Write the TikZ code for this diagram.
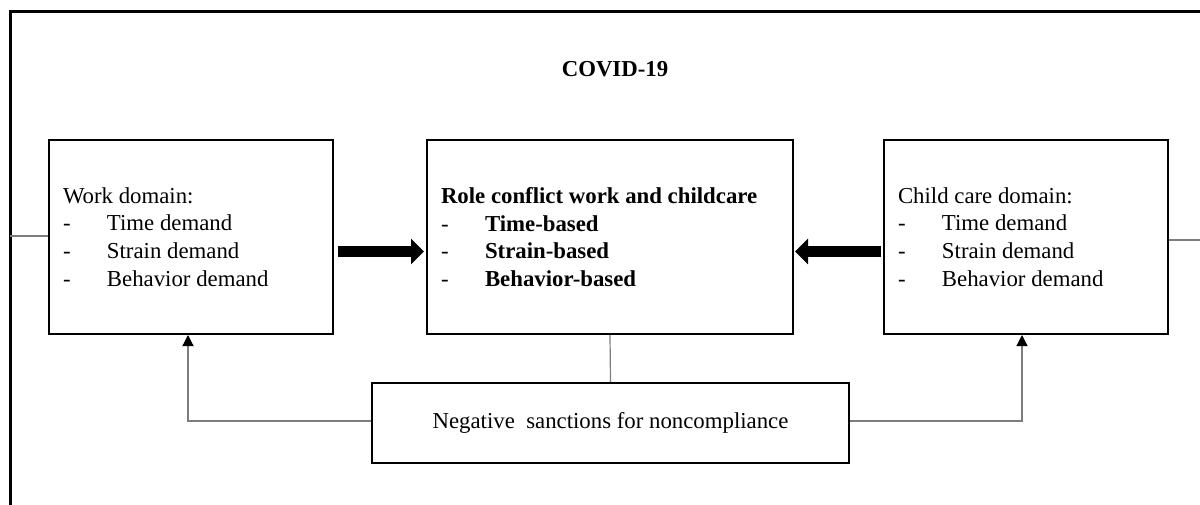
\documentclass[tikz,border=0pt]{standalone}
\usepackage{fontspec}
\setmainfont{Liberation Serif}
\usepackage{tikz}
\usetikzlibrary{arrows.meta,positioning,calc}
\definecolor{linkgray}{RGB}{125,125,125}
\newcommand{\itm}[1]{\makebox[22pt][l]{-}#1}

\begin{document}
\begin{tikzpicture}[x=0.5pt,y=-0.5pt,
    box/.style={draw,line width=1pt,minimum height=97pt,inner xsep=7pt,align=flush left,
      font=\fontsize{11.4}{13.85}\selectfont},
    link/.style={draw=linkgray,line width=0.6pt},
    smallarrow/.style={link,-{Triangle[length=5.5pt,width=5.5pt,color=black]}},
    bigarrow/.style={line width=5.5pt,-{Triangle[length=6.5pt,width=12.5pt]}}]
        \useasboundingbox (0,0) rectangle (1200,504);
        \clip (0,0) rectangle (1200,504);
        % frame
        \draw[line width=1.5pt] (10,11.5) rectangle (1220,530);
        \node[font=\fontsize{11.4}{13.85}\selectfont\bfseries,anchor=base] (covid) at (615,76) {COVID-19};
        % boxes
        \node[box,text width=128pt] (work) at (191,237)
          {Work domain:\\ \itm{Time demand}\\ \itm{Strain demand}\\ \itm{Behavior demand}};
        \node[box,text width=169pt] (conflict) at (610,237)
          {\textbf{Role conflict work and childcare}\\ \itm{\textbf{Time-based}}\\ \itm{\textbf{Strain-based}}\\ \itm{\textbf{Behavior-based}}};
        \node[box,text width=128pt] (child) at (1026,237)
          {Child care domain:\\ \itm{Time demand}\\ \itm{Strain demand}\\ \itm{Behavior demand}};
        \node[draw,line width=1pt,minimum width=238.5pt,minimum height=40pt,
          font=\fontsize{11.4}{13.85}\selectfont] (sanction) at (610.5,423)
          {Negative\ \ sanctions for noncompliance};
        % thick arrows
        \draw[bigarrow,shorten <=2pt,shorten >=1pt] ([yshift=-7.25pt]work.east) -- ([yshift=-7.25pt]conflict.west);
        \draw[bigarrow,shorten <=1pt,shorten >=0.5pt] ([yshift=-7.25pt]child.west) -- ([yshift=-7.25pt]conflict.east);
        % feedback lines
        \draw[smallarrow] ([yshift=1pt]sanction.west) -| ([xshift=-1.5pt]work.south);
        \draw[smallarrow] ([yshift=1pt]sanction.east) -| ([xshift=-2pt]child.south);
        \draw[link] (conflict.south) -- (sanction.north);
        % side lines
        \coordinate (lftedge) at (10,236);
        \coordinate (rgtedge) at (1200,240);
        \draw[link] (lftedge) -- (lftedge -| work.west);
        \draw[link] (rgtedge -| child.east) -- (rgtedge);
      \end{tikzpicture}
\end{document}
